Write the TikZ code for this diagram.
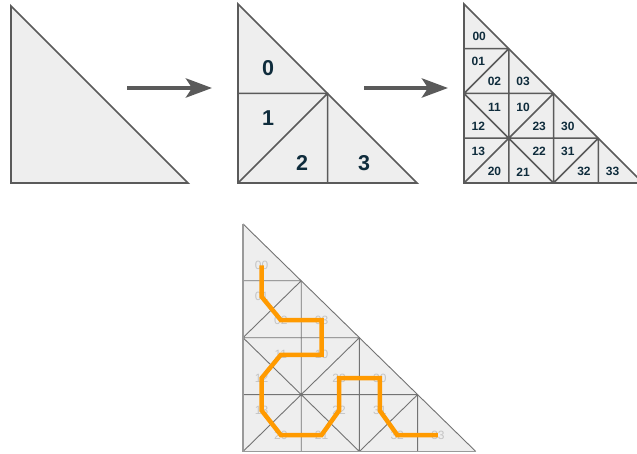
\documentclass[tikz,border=0pt]{standalone}
\usepackage{fontspec}
\setmainfont{Liberation Sans}
\usetikzlibrary{arrows.meta}
\definecolor{fillg}{HTML}{EEEEEE}
\definecolor{lineg}{HTML}{5A5A5A}
\definecolor{edgeg}{HTML}{9A9A9A}
\definecolor{darktxt}{HTML}{0F2C3C}
\definecolor{lighttxt}{HTML}{C4C4C4}
\definecolor{pathor}{HTML}{FF9A00}
\newcommand\sublines[1]{%
  \draw[#1] (0,2)--(2,2) (2,0)--(2,2) (0,0)--(2,2)
    (0,3)--(1,3) (1,0)--(1,3) (0,2)--(1,3)
    (0,1)--(3,1) (0,2)--(2,0) (3,0)--(3,1) (2,0)--(3,1);}
\begin{document}
\begin{tikzpicture}[x=1pt,y=-1pt,
  tri/.style={draw=lineg,fill=fillg,line width=1.7pt,line join=miter},
  innerline/.style={draw=lineg,line width=1.5pt},
  bigarrow/.style={draw=lineg,line width=4.5pt,-{Stealth[length=26pt,width=19pt,inset=6pt]}},
  biglabel/.style={font=\bfseries\fontsize{21.5}{21.5}\selectfont,text=darktxt,inner sep=0pt},
  midlabel/.style={font=\bfseries\fontsize{12}{12}\selectfont,text=darktxt,inner sep=0pt},
  faintlabel/.style={font=\fontsize{12}{12}\selectfont,text=lighttxt,inner sep=0pt},
  thinline/.style={draw=lineg!85,line width=0.9pt},
  orangepath/.style={draw=pathor,line width=4.5pt,line join=miter}]
\useasboundingbox (0,0) rectangle (637,454);
% first triangle
\draw[tri] (11,6) -- (11,183) -- (188,183) -- cycle;
% arrow 1
\coordinate (a1s) at (127,88);
\coordinate (a1e) at (212,88);
\draw[bigarrow] (a1s) -- (a1e);
% second triangle
\draw[tri] (238,4) -- (238,183) -- (417,183) -- cycle;
\draw[innerline] (238,93.5) -- (327.5,93.5) -- (327.5,183) (238,183) -- (327.5,93.5);
\node[biglabel] (q0) at (268,68) {0};
\node[biglabel] (q1) at (268,118) {1};
\node[biglabel] (q2) at (302,163) {2};
\node[biglabel] (q3) at (364,163) {3};
% arrow 2
\coordinate (a2s) at (364,88);
\coordinate (a2e) at (448,88);
\draw[bigarrow] (a2s) -- (a2e);
% third triangle
\begin{scope}[shift={(464,183)},x=44.75pt,y=44.75pt]
  \draw[tri] (0,4) -- (0,0) -- (4,0) -- cycle;
  \sublines{innerline}
  \foreach \n/\px/\py in {00/0.34/3.27,01/0.32/2.72,02/0.68/2.28,03/1.32/2.28,
      11/0.68/1.70,10/1.32/1.70,12/0.32/1.27,23/1.68/1.27,30/2.32/1.27,
      13/0.32/0.70,22/1.68/0.70,31/2.32/0.70,
      20/0.68/0.25,21/1.32/0.25,32/2.68/0.25,33/3.32/0.25}
    \node[midlabel] (t\n) at (\px,\py) {\n};
\end{scope}
% bottom triangle with path
\begin{scope}[shift={(243,451.5)},x=58.2pt,y=56.9pt]
  \fill[fillg] (0,4) -- (0,0) -- (4,0) -- cycle;
  \sublines{thinline}
  \draw[thinline] (0,4) -- (4,0);
  \draw[draw=edgeg,line width=1.7pt] (0,4) -- (0,0) -- (4,0);
  \foreach \n/\px/\py in {00/0.32/3.27,01/0.32/2.72,02/0.65/2.31,03/1.35/2.31,
      11/0.65/1.70,10/1.35/1.70,12/0.32/1.29,23/1.65/1.29,30/2.35/1.29,
      13/0.32/0.72,22/1.65/0.72,31/2.35/0.72,
      20/0.65/0.29,21/1.35/0.29,32/2.65/0.29,33/3.35/0.29}
    \node[faintlabel] (b\n) at (\px,\py) {\n};
  \draw[orangepath] (b00.center) -- (b01.center) -- (b02.center) -- (b03.center)
    -- (b10.center) -- (b11.center) -- (b12.center) -- (b13.center)
    -- (b20.center) -- (b21.center) -- (b22.center) -- (b23.center)
    -- (b30.center) -- (b31.center) -- (b32.center) -- (b33.center);
\end{scope}
\end{tikzpicture}
\end{document}
